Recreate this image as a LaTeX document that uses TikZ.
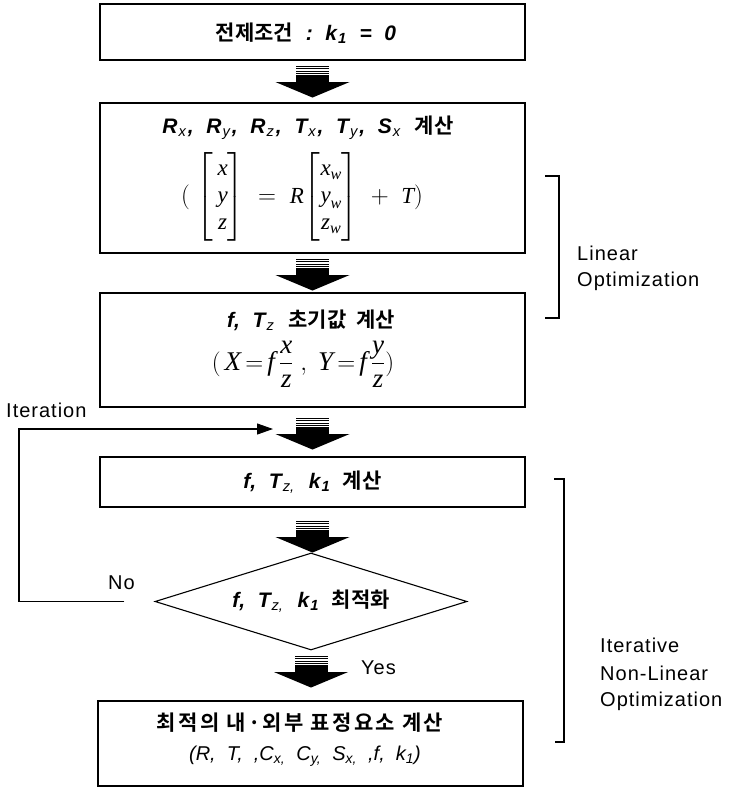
\documentclass[tikz,border=0pt]{standalone}
\usepackage{fontspec}
\usepackage{amsmath}
\setsansfont{Liberation Sans}
\newfontfamily\kr{Noto Sans CJK KR Bold}
\newfontfamily\krw{Noto Sans CJK KR Bold}[LetterSpace=11]
\newfontfamily\lab{Liberation Sans}[LetterSpace=5]
\newfontfamily\tms{Liberation Serif}
\usetikzlibrary{shapes.geometric,arrows.meta,calc}
\newcommand\lt[1]{{\sffamily\bfseries\itshape #1}}
\newcommand\sbs[1]{\kern1pt\textsubscript{\sffamily\itshape #1}\kern1.5pt}
\newcommand\sbb[1]{\kern1pt\textsubscript{\sffamily\bfseries\itshape #1}}
\newcommand\mv[1]{\text{\tms\itshape #1}}
\tikzset{
  box/.style={draw, line width=1.1pt, minimum width=425pt, inner sep=0pt},
  ttl/.style={font=\fontsize{21}{25}\selectfont, inner sep=0pt},
  lbl/.style={font=\lab\fontsize{20}{24}\selectfont, inner sep=0pt, anchor=west},
  fb/.style={line width=1.1pt, -{Triangle[length=16pt,width=11pt]}},
  brk/.style={line width=1.1pt},
  blockarrow/.pic={
    \fill (-16.5,0) rectangle (16.5,1.2);
    \fill (-16.5,2.6) rectangle (16.5,3.8);
    \fill (-16.5,5.0) rectangle (16.5,6.2);
    \fill (-16.5,7.2) rectangle (16.5,8.4);
    \fill (-16.5,9.4) rectangle (16.5,17);
    \fill (-37,16.5) -- (37,16.5) -- (0,32) -- cycle;
  }
}
\begin{document}
\begin{tikzpicture}[x=1pt,y=-1pt]
\useasboundingbox (0,0) rectangle (731,787);

% box 1
\node[box, minimum height=56pt] (b1) at (312.5,32) {};
\node[ttl] (b1t) at (306,33) {{\kr 전제조건}\ \ \lt{:}\ \ \lt{k}\sbb{1}\ \ \lt{=}\ \ \lt{0}};

\pic at ($(b1.south)+(0,5)$) {blockarrow};

% box 2
\node[box, minimum height=150pt] (b2) at (312.5,178) {};
\node[ttl] (b2t) at (308,128) {\lt{R}\sbs{x}\lt{,}\ \ \lt{R}\sbs{y}\lt{,}\ \ \lt{R}\sbs{z}\lt{,}\ \ \lt{T}\sbs{x}\lt{,}\ \ \lt{T}\sbs{y}\lt{,}\ \ \lt{S}\sbs{x}\ \ {\kr 계산}};
\node[inner sep=0pt, font=\fontsize{23}{27}\selectfont] (b2m) at (302,197)
 {$(\;\begin{bmatrix}\,\mv{x}\\ \,\mv{y}\\ \,\mv{z}\end{bmatrix}\;=\;\mv{R}\!\begin{bmatrix}\mv{x}_{\mv{w}}\\ \mv{y}_{\mv{w}}\\ \mv{z}_{\mv{w}}\end{bmatrix}\;+\;\mv{T})$};

\pic at ($(b2.south)+(0,5)$) {blockarrow};

% box 3
\node[box, minimum height=114pt] (b3) at (312.5,350) {};
\node[ttl] (b3t) at (311,320) {\lt{f}\lt{,}\ \ \lt{T}\sbs{z}\ \ {\kr 초기값\ \ 계산}};
\node[inner sep=0pt, font=\fontsize{27}{31}\selectfont] (b3m) at (303,364)
 {$(\,\mv{X}\,{=}\,\mv{f}\,\dfrac{\mv{x}}{\mv{z}}\;,\;\mv{Y}\,{=}\,\mv{f}\,\dfrac{\mv{y}}{\mv{z}})$};

\pic at ($(b3.south)+(0,10)$) {blockarrow};

% box 4
\node[box, minimum height=50pt] (b4) at (312.5,482) {};
\node[ttl] (b4t) at (b4.center) {\lt{f}\lt{,}\ \ \lt{T}\sbs{z,}\ \ \lt{k}\sbb{1}\ \ {\kr 계산}};

\pic at ($(b4.south)+(0,13)$) {blockarrow};

% diamond
\node[draw, diamond, line width=1.1pt, aspect=3.2, minimum width=312pt, minimum height=97pt, inner sep=0pt] (dia) at (311,601.5) {};
\node[ttl] (diat) at (dia.center) {\lt{f}\lt{,}\ \ \lt{T}\sbs{z,}\ \ \lt{k}\sbb{1}\ \ {\kr 최적화}};

\pic at ($(dia.south)+(0,5)$) {blockarrow};
\node[lbl] (yes) at (361,668) {Yes};

% box 5
\node[box, minimum height=85pt] (b5) at (310.5,743.5) {};
\node[ttl] (b5t) at (300,723) {\krw 최적의 내·외부 표정요소 계산};
\node[inner sep=0pt, font=\sffamily\itshape\fontsize{20}{23}\selectfont] (b5s) at (305,756)
 {(R,\ \ T,\ \ ,C\textsubscript{x,}\ \ C\textsubscript{y,}\ \ S\textsubscript{x,}\ \ ,f,\ \ k\textsubscript{1})};

% feedback loop
\coordinate (fbc) at (19,429);
\coordinate (itin) at (273,429);
\draw[fb] ($(dia.west)+(-30,0)$) -| (fbc) -- (itin);
\node[lbl] (iter) at (6,410) {Iteration};
\node[lbl] (no) at (108,583) {No};

% brackets
\coordinate (lb1) at (545,176);
\coordinate (lb2) at (545,318);
\draw[brk] (lb1) -- ++(14,0) |- (lb2);
\node[lbl] (lin1) at (577,253) {Linear};
\node[lbl] (lin2) at (577,281) {Optimization};

\coordinate (ib1) at (554,479);
\coordinate (ib2) at (555,742);
\draw[brk] (ib1) -- ++(10,0) |- (ib2);
\node[lbl] (it1) at (600,645) {Iterative};
\node[lbl] (it2) at (600,673) {Non-Linear};
\node[lbl] (it3) at (600,701) {Optimization};
\end{tikzpicture}
\end{document}
